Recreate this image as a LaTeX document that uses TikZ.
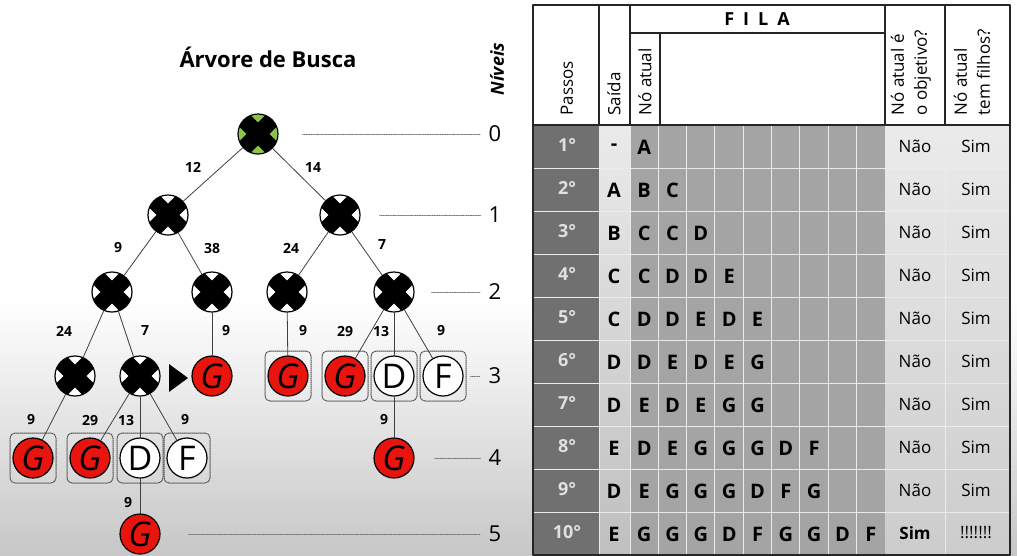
\documentclass[tikz,border=0pt]{standalone}
\usepackage{fontspec}
\setmainfont{Open Sans}
\usetikzlibrary{positioning}
\definecolor{rootgreen}{HTML}{8BC34A}
\definecolor{goalred}{HTML}{E8150E}
\definecolor{passgray}{HTML}{707070}
\definecolor{queuegray}{HTML}{A4A4A4}
\tikzset{
  xnode/.style={circle, draw, line width=1.2pt, fill=white, minimum size=40pt, inner sep=0pt,
    path picture={\draw[line width=16pt] (path picture bounding box.north west) -- (path picture bounding box.south east)
      (path picture bounding box.north east) -- (path picture bounding box.south west);}},
  gnode/.style={circle, draw, line width=1.2pt, fill=goalred, minimum size=40pt, inner sep=0pt, font=\fontsize{34}{34}\selectfont\itshape},
  lnode/.style={circle, draw, line width=1.2pt, fill=white, minimum size=40pt, inner sep=0pt, font=\fontsize{34}{34}\selectfont},
  gbox/.style={draw=black!70, densely dotted, line width=1pt, rounded corners=5pt, minimum width=46pt, minimum height=50pt},
  link/.style={black!75, line width=0.8pt},
  cost/.style={font=\fontsize{14}{14}\selectfont\bfseries},
  lvl/.style={black!55, densely dotted, line width=0.7pt},
  lvlnum/.style={font=\fontsize{22}{22}\selectfont, inner sep=8pt},
  rule/.style={black!85, line width=1.2pt},
  cellline/.style={white!92!black, line width=1pt},
  hdr/.style={rotate=90, anchor=west, align=left, font=\fontsize{17}{23}\selectfont},
}
\begin{document}
\begin{tikzpicture}[x=1pt, y=-1pt, line join=round, line cap=round]
\useasboundingbox (0,0) rectangle (1017,555);
\fill[white] (0,0) rectangle (1017,555);
\shade[top color=white, bottom color=black!22] (0,300) rectangle (1017,555);

\node[font=\fontsize{22}{22}\selectfont\bfseries] (title) at (268,57) {Árvore de Busca};
\node[rotate=90, font=\fontsize{18}{18}\selectfont\bfseries\itshape] (niveis) at (497,69) {Níveis};

\node[gbox] (fCDG) at (288,376) {};
\node[gbox] (fCEG) at (345,376) {};
\node[gbox] (fCED) at (394,376) {};
\node[gbox] (fCEF) at (443,376) {};
\node[gbox] (fBCDG) at (33,458) {};
\node[gbox] (fBCEG) at (90,458) {};
\node[gbox] (fBCED) at (140,458) {};
\node[gbox] (fBCEF) at (187,458) {};

\node[xnode, fill=rootgreen] (A) at (258,134) {};
\node[xnode] (B) at (168,215) {};
\node[xnode] (C) at (340,215) {};
\node[xnode] (BC) at (112,292) {};
\node[xnode] (BD) at (212,292) {};
\node[xnode] (CD) at (287,292) {};
\node[xnode] (CE) at (394,292) {};
\node[xnode] (BCD) at (75,376) {};
\node[xnode] (BCE) at (140,376) {};
\node[gnode] (BDG) at (212,376) {G};
\node[gnode] (CDG) at (288,376) {G};
\node[gnode] (CEG) at (345,376) {G};
\node[lnode] (CED) at (394,376) {D};
\node[lnode] (CEF) at (443,376) {F};
\node[gnode] (BCDG) at (33,458) {G};
\node[gnode] (BCEG) at (90,458) {G};
\node[lnode] (BCED) at (140,458) {D};
\node[lnode] (BCEF) at (187,458) {F};
\node[gnode] (CEDG) at (394,458) {G};
\node[gnode] (BCEDG) at (140,534) {G};

\fill (169,364) -- (188,378) -- (169,392) -- cycle;

\foreach \p/\c/\xx/\yy/\t in {A/B/193/167/12, A/C/313/167/14, B/BC/118/248/9, B/BD/212/248/38,
  C/CD/291/248/24, C/CE/382/245/7, BC/BCD/64/331/24, BC/BCE/145/331/7, BD/BDG/226/331/9,
  CD/CDG/303/331/9, CE/CEG/345/331/29, CE/CED/381/331/13, CE/CEF/441/331/9,
  BCD/BCDG/31/420/9, BCE/BCEG/90/420/29, BCE/BCED/126/420/13, BCE/BCEF/185/420/9,
  CED/CEDG/384/420/9, BCED/BCEDG/128/503/9}
{
  \draw[link] (\p) -- (\c);
  \node[cost] (w\c) at (\xx,\yy) {\t};
}

\node[lvlnum] (L0) at (495,134) {0};
\node[lvlnum] (L1) at (495,215) {1};
\node[lvlnum] (L2) at (495,292) {2};
\node[lvlnum] (L3) at (495,376) {3};
\node[lvlnum] (L4) at (495,458) {4};
\node[lvlnum] (L5) at (495,534) {5};
\draw[lvl] ([xshift=24pt]A.east) -- (L0);
\draw[lvl] ([xshift=19pt]C.east) -- (L1);
\draw[lvl] ([xshift=17pt]CE.east) -- (L2);
\draw[lvl] ([xshift=4pt]fCEF.east) -- (L3);
\draw[lvl] ([xshift=20pt]CEDG.east) -- (L4);
\draw[lvl] ([xshift=28pt]BCEDG.east) -- (L5);

\fill[white] (533,5) rectangle (1010,125);
\fill[passgray] (533,125) rectangle (599,555);
\shade[top color=black!8, bottom color=black!25] (599,125) rectangle (630,555);
\fill[queuegray] (630,125) rectangle (885,555);
\shade[top color=black!8, bottom color=black!20] (885,125) rectangle (1010,555);
\foreach \k in {1,...,9} \draw[cellline] (533,{125+43*\k}) -- (1010,{125+43*\k});
\foreach \k in {1,...,8} \draw[cellline] ({630+28.33*\k},125) -- ({630+28.33*\k},555);
\foreach \xx in {599,630,945} \draw[cellline] (\xx,125) -- (\xx,555);
\draw[rule] (533,5) rectangle (1010,555);
\draw[rule] (533,125) -- (1010,125);
\foreach \xx in {599,630,885,945} \draw[rule] (\xx,5) -- (\xx,125);
\draw[rule] (630,33) -- (885,33);
\draw[rule] (660,33) -- (660,125);

\node[font=\fontsize{18}{18}\selectfont\bfseries] (fila) at (757,19) {F\hspace{9pt}I\hspace{9pt}L\hspace{9pt}A};
\node[hdr] (hpassos) at (567,119) {Passos};
\node[hdr] (hsaida) at (614,119) {Saída};
\node[hdr] (hatual) at (645,119) {Nó atual};
\node[hdr] (hobj) at (911,119) {Nó atual é\\o objetivo?};
\node[hdr] (hfilhos) at (972,119) {Nó atual\\tem filhos?};

\foreach \r/\s/\q/\o/\f in {1/-/{A}/Não/Sim, 2/A/{B,C}/Não/Sim, 3/B/{C,C,D}/Não/Sim,
  4/C/{C,D,D,E}/Não/Sim, 5/C/{D,D,E,D,E}/Não/Sim, 6/D/{D,E,D,E,G}/Não/Sim,
  7/D/{E,D,E,G,G}/Não/Sim, 8/E/{D,E,G,G,G,D,F}/Não/Sim, 9/D/{E,G,G,G,D,F,G}/Não/Sim,
  10/E/{G,G,G,D,F,G,G,D,F}/\textbf{Sim}/!!!!!!!}
{
  \node[text=white!88!black, font=\fontsize{18}{18}\selectfont\bfseries] (p\r) at (567,{145+43*(\r-1)}) {\r°};
  \node[font=\fontsize{20}{20}\selectfont\bfseries] (s\r) at (614,{147+43*(\r-1)}) {\s};
  \foreach \v [count=\k] in \q
    \node[font=\fontsize{20}{20}\selectfont\bfseries] (q\r-\k) at ({630+28.33*(\k-0.5)},{147+43*(\r-1)}) {\v};
  \node[font=\fontsize{17}{17}\selectfont] (o\r) at (915,{146+43*(\r-1)}) {\o};
  \node[font=\fontsize{17}{17}\selectfont] (f\r) at (976,{146+43*(\r-1)}) {\f};
}
\end{tikzpicture}
\end{document}
